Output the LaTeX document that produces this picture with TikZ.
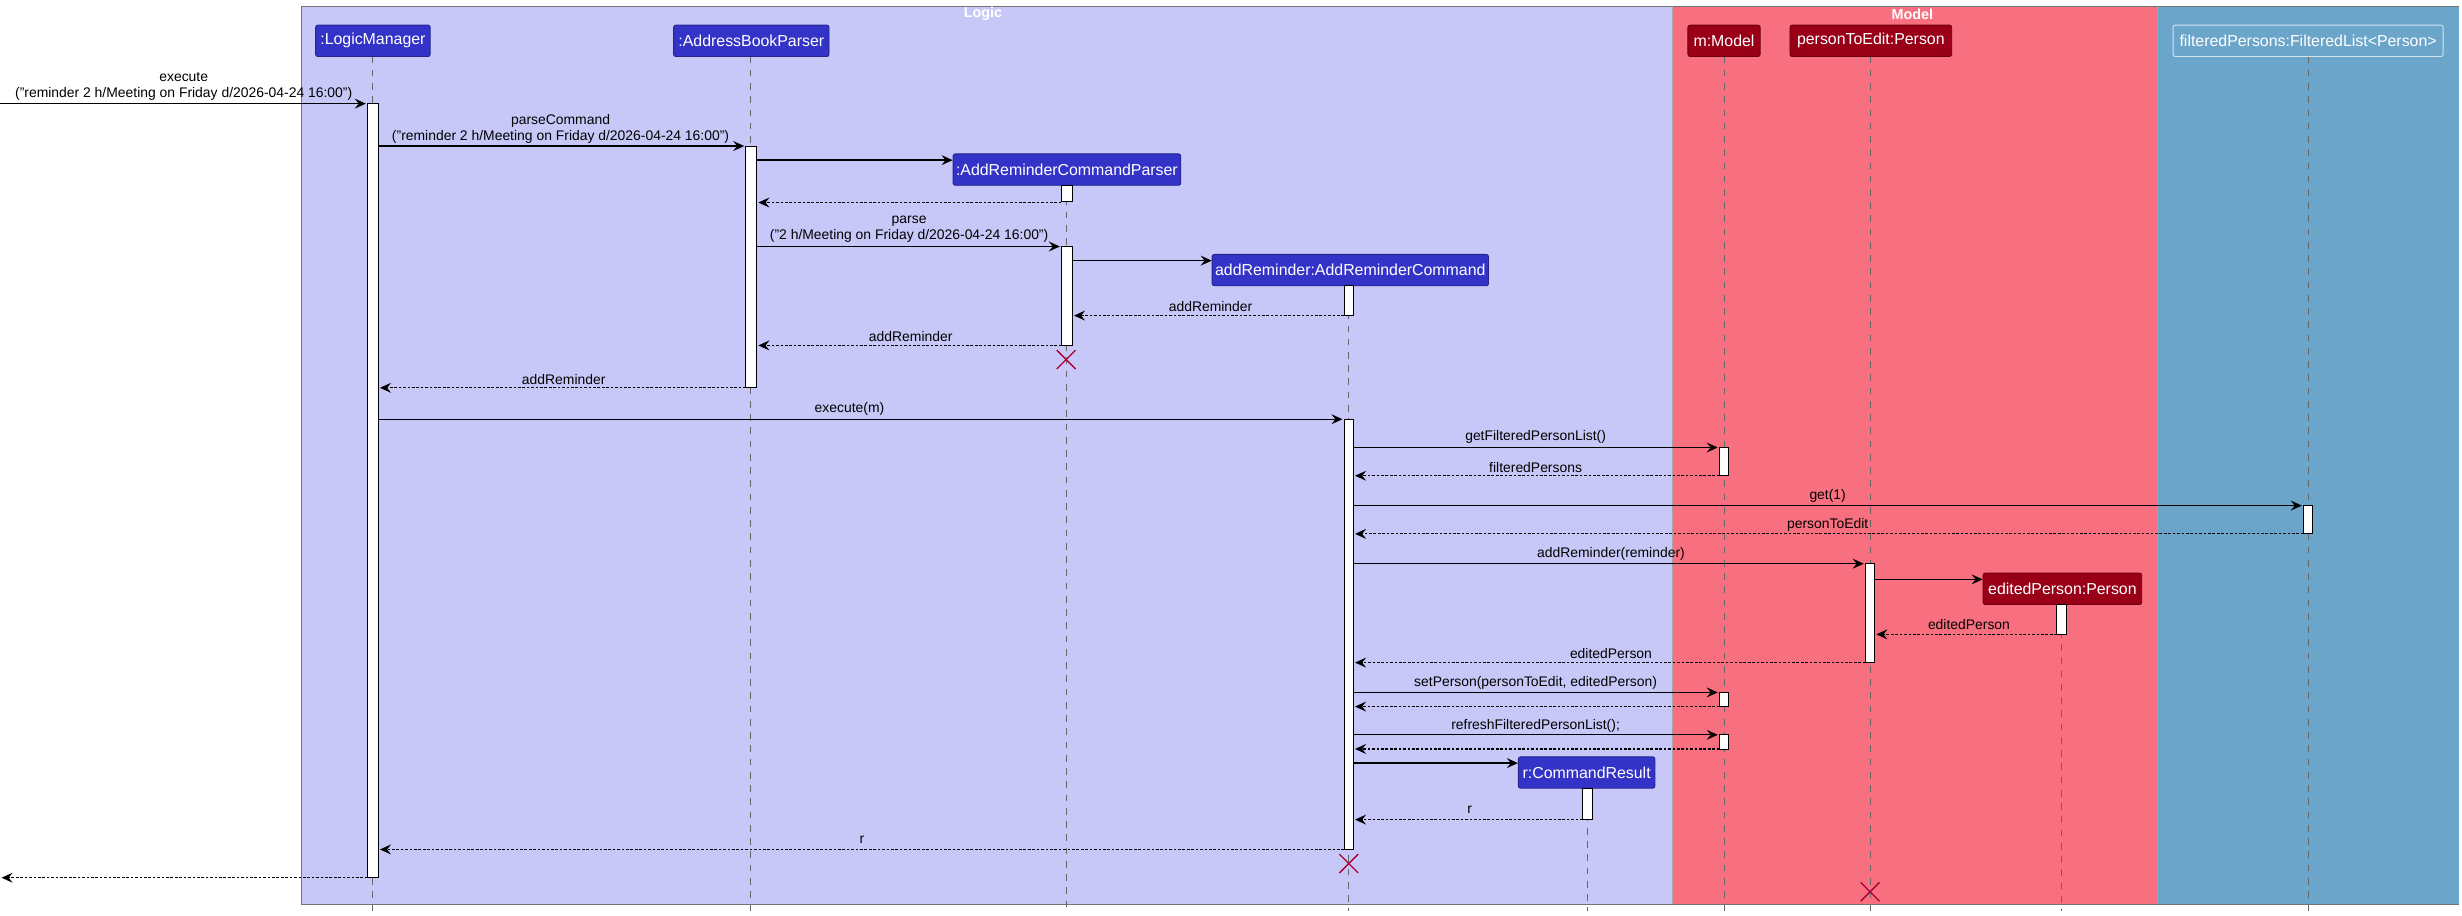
\documentclass[tikz,border=0pt]{standalone}
\usepackage{fontspec}
\setmainfont{Liberation Sans}
\usetikzlibrary{arrows.meta}
\definecolor{logicbg}{HTML}{C8C8F8}
\definecolor{modelbg}{HTML}{F87080}
\definecolor{listbg}{HTML}{6CA5CA}
\definecolor{pblue}{HTML}{3333C8}
\definecolor{pred}{HTML}{990018}
\definecolor{xred}{HTML}{A80036}
\begin{document}
\begin{tikzpicture}[x=0.025cm,y=-0.025cm,
  box/.style={draw=#1!60!black,line width=0.3pt},
  part/.style={draw=#1!70!black,fill=#1,text=white,font=\fontsize{7.2}{8}\selectfont,rounded corners=1pt,inner sep=0pt,minimum height=20*0.025cm,line width=0.4pt},
  life/.style={draw=black!60,dash pattern=on 3pt off 3pt,line width=0.3pt},
  act/.style={draw=black,fill=white,line width=0.4pt},
  call/.style={-{Stealth[length=5pt,width=4.5pt,inset=1.8pt]},line width=0.6pt},
  ret/.style={-{Stealth[length=5pt,width=4.5pt,inset=1.8pt]},line width=0.5pt,dash pattern=on 1.2pt off 0.8pt},
  lbl/.style={font=\fontsize{6.3}{7.5}\selectfont,align=center,inner sep=0pt},
  title/.style={text=white,font=\bfseries\fontsize{6.5}{7}\selectfont,inner sep=0pt},
  kill/.style={draw=xred,line width=0.6pt}]
\useasboundingbox (0,0) rectangle (1568,583);
% groups
\fill[logicbg] (192,4) rectangle (1065,576);
\fill[modelbg] (1065,4) rectangle (1374,576);
\fill[listbg] (1374,4) rectangle (1566,576);
\draw[black!55,line width=0.4pt] (192,576) -- (192,4) -- (1566,4);
\draw[black!55,line width=0.6pt] (192,576) -- (1566,576);
\draw[black!35,line width=0.4pt] (1065,4) -- (1065,576) (1374,4) -- (1374,576);
\node[title] (tLogic) at (626,9) {Logic};
\node[title] (tModel) at (1218,9) {Model};
% lifelines
\draw[life] (237,36) -- (237,580);
\draw[life] (478,36) -- (478,580);
\draw[life] (679,118) -- (679,580);
\draw[life] (859,182) -- (859,580);
\draw[life] (1098,36) -- (1098,580);
\draw[life] (1191,36) -- (1191,580);
\draw[life] (1470,36) -- (1470,580);
\draw[life] (1313,385) -- (1313,580);
\draw[life] (1011,502) -- (1011,580);
% participants
\node[part=pblue,minimum width=73*0.025cm] (lm) at (237.5,26) {:LogicManager};
\node[part=pblue,minimum width=99*0.025cm] (abp) at (478.5,26) {:AddressBookParser};
\node[part=pblue,minimum width=145*0.025cm] (arcp) at (679.5,108) {:AddReminderCommandParser};
\node[part=pblue,minimum width=176*0.025cm] (arc) at (860,172) {addReminder:AddReminderCommand};
\node[part=pred,minimum width=46*0.025cm] (mm) at (1098,26) {m:Model};
\node[part=pred,minimum width=103*0.025cm] (pte) at (1191.5,26) {personToEdit:Person};
\node[part=listbg,draw=white!70!listbg,minimum width=172*0.025cm] (fp) at (1470,26) {filteredPersons:FilteredList<Person>};
\node[part=pred,minimum width=101*0.025cm] (ep) at (1313.5,375) {editedPerson:Person};
\node[part=pblue,minimum width=87*0.025cm] (cr) at (1010.5,492) {r:CommandResult};
% activations
\draw[act] (234,66) rectangle (241,559);
\draw[act] (475,93) rectangle (482,247);
\draw[act] (676,118) rectangle (683,128);
\draw[act] (676,157) rectangle (683,220);
\draw[act] (856,182) rectangle (862,201);
\draw[act] (856,267) rectangle (862,541);
\draw[act] (1095,285) rectangle (1101,303);
\draw[act] (1467,322) rectangle (1473,340);
\draw[act] (1188,359) rectangle (1194,422);
\draw[act] (1310,385) rectangle (1316,404);
\draw[act] (1095,441) rectangle (1101,450);
\draw[act] (1095,468) rectangle (1101,477);
\draw[act] (1008,502) rectangle (1014,522);
% messages
\draw[call] (0,66) -- (233,66);
\node[lbl] (m1) at (117,55) {execute\\("reminder 2 h/Meeting on Friday d/2026-04-24 16:00")};
\draw[call] (241,93) -- (474,93);
\node[lbl] (m2) at (357,82) {parseCommand\\("reminder 2 h/Meeting on Friday d/2026-04-24 16:00")};
\draw[call] (482,102) -- (arcp.west |- 0,102);
\draw[ret] (676,129) -- (483,129);
\draw[call] (482,157) -- (675,157);
\node[lbl] (m3) at (579,146) {parse\\("2 h/Meeting on Friday d/2026-04-24 16:00")};
\draw[call] (683,166) -- (arc.west |- 0,166);
\draw[ret] (856,201) -- (684,201);
\node[lbl] (m4) at (771,195.5) {addReminder};
\draw[ret] (676,220) -- (483,220);
\node[lbl] (m5) at (580,214.5) {addReminder};
\draw[kill] (673,223) -- (685,235) (685,223) -- (673,235);
\draw[ret] (475,247) -- (242,247);
\node[lbl] (m6) at (359,241.5) {addReminder};
\draw[call] (241,267) -- (855,267);
\node[lbl] (m7) at (541,260.5) {execute(m)};
\draw[call] (862,285) -- (1094,285);
\node[lbl] (m8) at (978,278.5) {getFilteredPersonList()};
\draw[ret] (1095,303) -- (863,303);
\node[lbl] (m9) at (978,297.5) {filteredPersons};
\draw[call] (862,322) -- (1466,322);
\node[lbl] (m10) at (1164,316) {get(1)};
\draw[ret] (1467,340) -- (863,340);
\node[lbl] (m11) at (1164,334.5) {personToEdit};
\draw[call] (862,359) -- (1187,359);
\node[lbl] (m12) at (1026,353) {addReminder(reminder)};
\draw[call] (1194,369) -- (ep.west |- 0,369);
\draw[ret] (1310,404) -- (1195,404);
\node[lbl] (m13) at (1254,397.5) {editedPerson};
\draw[ret] (1188,422) -- (863,422);
\node[lbl] (m14) at (1026,416) {editedPerson};
\draw[call] (862,441) -- (1094,441);
\node[lbl] (m15) at (978,435) {setPerson(personToEdit, editedPerson)};
\draw[ret] (1095,450) -- (863,450);
\draw[call] (862,468) -- (1094,468);
\node[lbl] (m16) at (978,462) {refreshFilteredPersonList();};
\draw[ret] (1095,477) -- (863,477);
\draw[call] (862,486) -- (cr.west |- 0,486);
\draw[ret] (1008,522) -- (863,522);
\node[lbl] (m17) at (936,516) {r};
\draw[ret] (856,541) -- (242,541);
\node[lbl] (m18) at (549,535) {r};
\draw[kill] (853,544) -- (865,556) (865,544) -- (853,556);
\draw[ret] (234,559) -- (1,559);
\draw[kill] (1185,562) -- (1197,574) (1197,562) -- (1185,574);
\end{tikzpicture}
\end{document}
